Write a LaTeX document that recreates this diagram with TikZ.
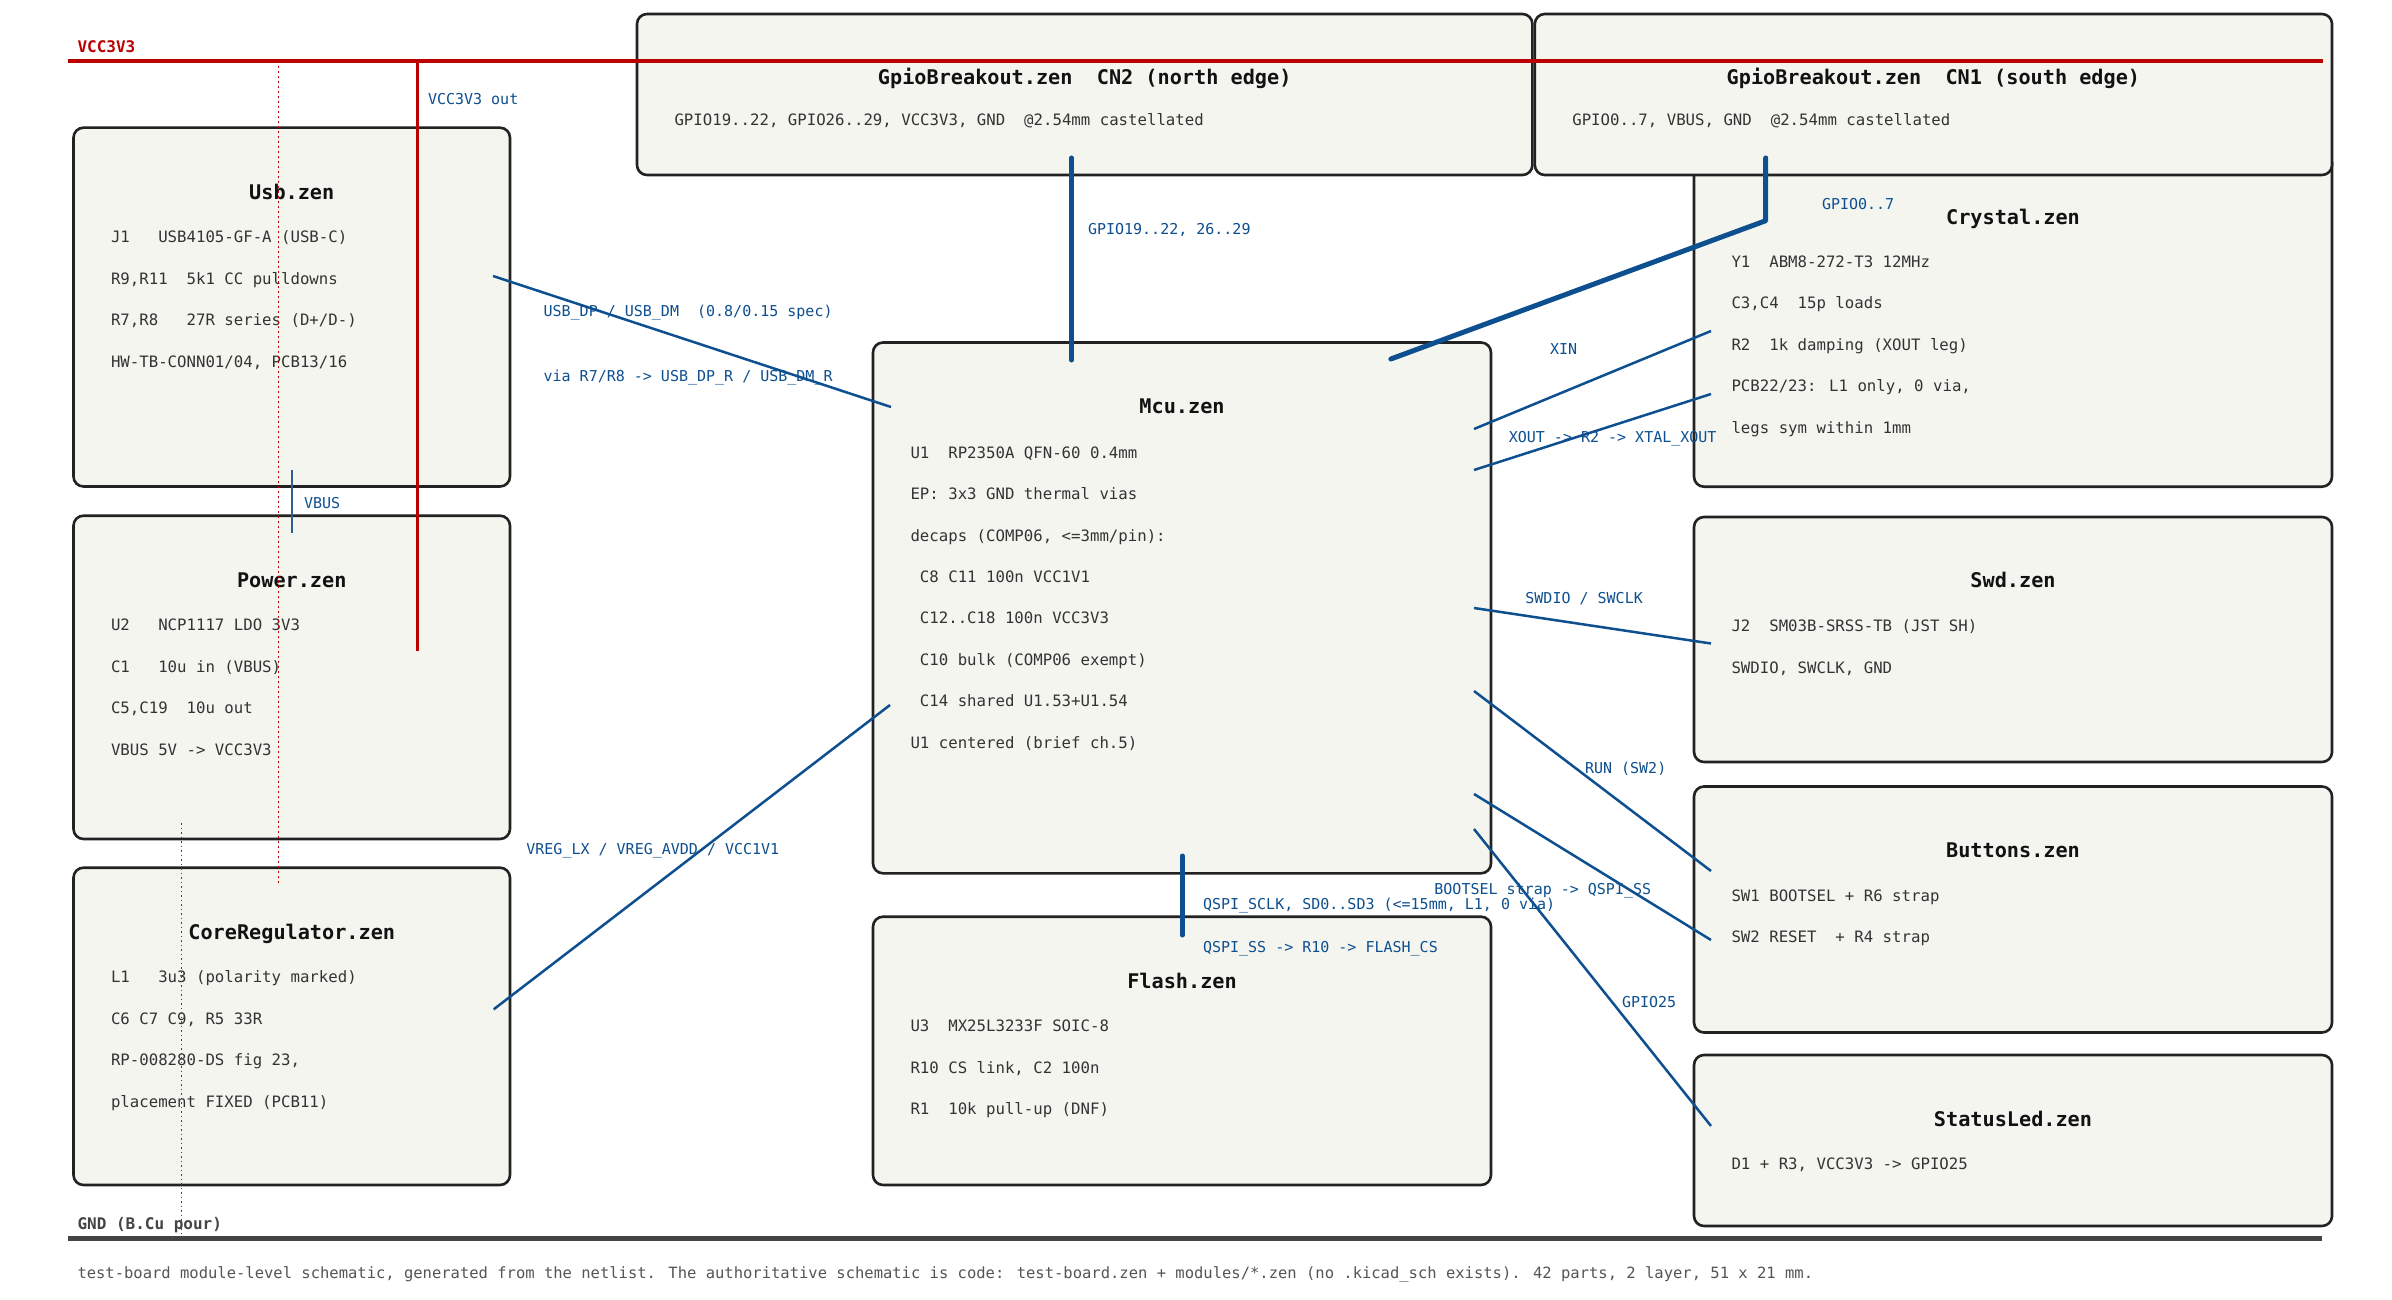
\documentclass[tikz,border=0pt]{standalone}
\usepackage{fontspec}
\usetikzlibrary{calc}
\newfontfamily\zenmono{DejaVu Sans Mono}

\definecolor{railred}{RGB}{187,0,0}
\definecolor{netblue}{RGB}{13,79,143}
\definecolor{vbusblue}{RGB}{45,95,145}
\definecolor{boxfill}{RGB}{245,245,240}
\definecolor{boxline}{RGB}{34,34,34}
\definecolor{gndgray}{RGB}{68,68,68}
\definecolor{bodygray}{RGB}{51,51,51}
\definecolor{notegray}{RGB}{85,85,85}

\begin{document}
\begin{tikzpicture}[x=1pt,y=-1pt]
\tikzstyle{every node}+=[inner sep=0pt, outer sep=0pt]
\tikzstyle{zenbox}=[draw=boxline, fill=boxfill, line width=2.6pt, rounded corners=10pt, anchor=north west]
\tikzstyle{zentitle}=[font=\zenmono\bfseries\fontsize{20.2}{24}\selectfont, text=black!93, text height=14.7pt, text depth=0pt]
\tikzstyle{zenline}=[font=\zenmono\fontsize{15.7}{19}\selectfont, text=bodygray, anchor=west, text height=11.4pt, text depth=0pt]
\tikzstyle{netlabel}=[font=\zenmono\fontsize{15}{18}\selectfont, text=netblue, anchor=west, text height=10.9pt, text depth=0pt]
\tikzstyle{raillabel}=[font=\zenmono\bfseries\fontsize{16}{19}\selectfont, anchor=west, text height=11.7pt, text depth=0pt]
\tikzstyle{net}=[draw=netblue, line width=2.5pt]
\tikzstyle{bus}=[draw=netblue, line width=5pt, line cap=round, line join=round]
\useasboundingbox (0,0) rectangle (2392,1300);
\fill[white] (0,0) rectangle (2392,1300);
% module boxes
\node[zenbox, minimum width=436.5, minimum height=358.8] (usb) at (73.5,127.7) {};
\node[zentitle] (usb-t) at ($(usb.north)+(0,64)$) {Usb.zen};
\foreach \zline [count=\i from 0] in {J1~~~USB4105-GF-A (USB-C), {R9,R11~~5k1 CC pulldowns}, {R7,R8~~~27R series (D+/D-)}, {HW-TB-CONN01/04, PCB13/16}}
  \node[zenline] (usb-\i) at ($(usb.north west)+(37.5,109.5+41.4*\i)$) {\zline};
\node[zenbox, minimum width=436.5, minimum height=323.3] (power) at (73.5,515.7) {};
\node[zentitle] (power-t) at ($(power.north)+(0,64)$) {Power.zen};
\foreach \zline [count=\i from 0] in {U2~~~NCP1117 LDO 3V3, C1~~~10u in (VBUS), {C5,C19~~10u out}, VBUS 5V -> VCC3V3}
  \node[zenline] (power-\i) at ($(power.north west)+(37.5,109.5+41.4*\i)$) {\zline};
\node[zenbox, minimum width=436.5, minimum height=317.3] (corereg) at (73.5,867.7) {};
\node[zentitle] (corereg-t) at ($(corereg.north)+(0,64)$) {CoreRegulator.zen};
\foreach \zline [count=\i from 0] in {L1~~~3u3 (polarity marked), {C6 C7 C9, R5 33R}, {RP-008280-DS fig 23,}, placement FIXED (PCB11)}
  \node[zenline] (corereg-\i) at ($(corereg.north west)+(37.5,109.5+41.4*\i)$) {\zline};
\node[zenbox, minimum width=895.4, minimum height=161] (gpiocn2) at (637,14) {};
\node[zentitle] (gpiocn2-t) at ($(gpiocn2.north)+(0,62.7)$) {GpioBreakout.zen~~CN2 (north edge)};
\node[zenline] (gpiocn2-0) at ($(gpiocn2.north west)+(37.5,106)$) {GPIO19..22, GPIO26..29, VCC3V3, GND~~@2.54mm castellated};
\node[zenbox, minimum width=638, minimum height=334] (crystal) at (1694,152.7) {};
\node[zentitle] (crystal-t) at ($(crystal.north)+(0,64)$) {Crystal.zen};
\foreach \zline [count=\i from 0] in {Y1~~ABM8-272-T3 12MHz, {C3,C4~~15p loads}, R2~~1k damping (XOUT leg), {PCB22/23: L1 only, 0 via,}, legs sym within 1mm}
  \node[zenline] (crystal-\i) at ($(crystal.north west)+(37.5,109+41.4*\i)$) {\zline};
\node[zenbox, minimum width=797.2, minimum height=161] (gpiocn1) at (1534.8,14) {};
\node[zentitle] (gpiocn1-t) at ($(gpiocn1.north)+(0,62.7)$) {GpioBreakout.zen~~CN1 (south edge)};
\node[zenline] (gpiocn1-0) at ($(gpiocn1.north west)+(37.5,106)$) {GPIO0..7, VBUS, GND~~@2.54mm castellated};
\node[zenbox, minimum width=618, minimum height=530.8] (mcu) at (873,342.5) {};
\node[zentitle] (mcu-t) at ($(mcu.north)+(0,64)$) {Mcu.zen};
\foreach \zline [count=\i from 0] in {U1~~RP2350A QFN-60 0.4mm, EP: 3x3 GND thermal vias, {decaps (COMP06, <=3mm/pin):}, ~C8 C11 100n VCC1V1, ~C12..C18 100n VCC3V3, ~C10 bulk (COMP06 exempt), ~C14 shared U1.53+U1.54, U1 centered (brief ch.5)}
  \node[zenline] (mcu-\i) at ($(mcu.north west)+(37.5,110+41.4*\i)$) {\zline};
\node[zenbox, minimum width=618, minimum height=268.3] (flash) at (873,916.7) {};
\node[zentitle] (flash-t) at ($(flash.north)+(0,64)$) {Flash.zen};
\foreach \zline [count=\i from 0] in {U3~~MX25L3233F SOIC-8, {R10 CS link, C2 100n}, R1~~10k pull-up (DNF)}
  \node[zenline] (flash-\i) at ($(flash.north west)+(37.5,109.5+41.4*\i)$) {\zline};
\node[zenbox, minimum width=638, minimum height=245] (swd) at (1694,517) {};
\node[zentitle] (swd-t) at ($(swd.north)+(0,63)$) {Swd.zen};
\foreach \zline [count=\i from 0] in {J2~~SM03B-SRSS-TB (JST SH), {SWDIO, SWCLK, GND}}
  \node[zenline] (swd-\i) at ($(swd.north west)+(37.5,109+41.4*\i)$) {\zline};
\node[zenbox, minimum width=638, minimum height=246] (buttons) at (1694,786.5) {};
\node[zentitle] (buttons-t) at ($(buttons.north)+(0,63.5)$) {Buttons.zen};
\foreach \zline [count=\i from 0] in {SW1 BOOTSEL + R6 strap, SW2 RESET~~+ R4 strap}
  \node[zenline] (buttons-\i) at ($(buttons.north west)+(37.5,109+41.4*\i)$) {\zline};
\node[zenbox, minimum width=638, minimum height=171] (statusled) at (1694,1055) {};
\node[zentitle] (statusled-t) at ($(statusled.north)+(0,64.5)$) {StatusLed.zen};
\node[zenline] (statusled-0) at ($(statusled.north west)+(37.5,109)$) {D1 + R3, VCC3V3 -> GPIO25};
% power rails
\coordinate (vcc-w) at (67.7,61);
\coordinate (vcc-e) at (2323,61);
\coordinate (gnd-w) at (67.7,1238.5);
\coordinate (gnd-e) at (2322,1238.5);
\coordinate (vcc-tap) at (278.4,884);
\coordinate (vcc-out) at (417.3,651);
\coordinate (gnd-tap) at (181.4,823);
\draw[railred, line width=1.5pt, dash pattern=on 2pt off 3pt] (vcc-tap |- vcc-w) -- (vcc-tap);
\draw[gndgray, line width=1.2pt, dash pattern=on 1.5pt off 3pt] (gnd-tap) -- (gnd-tap |- gnd-w);
\draw[railred, line width=2.5pt] (vcc-out |- vcc-w) -- (vcc-out);
\draw[railred, line width=4pt] (vcc-w) -- (vcc-e);
\draw[gndgray, line width=5pt] (gnd-w) -- (gnd-e);
\node[raillabel, text=railred] (vcc-lbl) at (77.5,47) {VCC3V3};
\node[raillabel, text=gndgray] (gnd-lbl) at (77.5,1224) {GND (B.Cu pour)};
% pins
\coordinate (usb-p) at ($(usb.north east)+(-17,148.3)$);
\coordinate (usb-vbus) at ($(usb.south west)+(218.5,-16.5)$);
\coordinate (power-vbus) at ($(power.north west)+(218.5,17.3)$);
\coordinate (corereg-p) at ($(corereg.north east)+(-16.3,141.6)$);
\coordinate (gpiocn2-p) at ($(gpiocn2.south west)+(434.5,-17)$);
\coordinate (gpiocn1-p) at ($(gpiocn1.south west)+(230.9,-17)$);
\coordinate (gpiocn1-k) at ($(gpiocn1.south west)+(230.9,45.7)$);
\coordinate (mcu-usb) at ($(mcu.north west)+(18,64.5)$);
\coordinate (mcu-vreg) at ($(mcu.north west)+(17,362.5)$);
\coordinate (mcu-cn2) at ($(mcu.north west)+(198.5,17.5)$);
\coordinate (mcu-cn1) at ($(mcu.north east)+(-100.2,16.5)$);
\coordinate (mcu-xin) at ($(mcu.north east)+(-17,86.5)$);
\coordinate (mcu-xout) at ($(mcu.north east)+(-17,127.5)$);
\coordinate (mcu-swd) at ($(mcu.north east)+(-17,265.5)$);
\coordinate (mcu-run) at ($(mcu.north east)+(-17,348.5)$);
\coordinate (mcu-boot) at ($(mcu.north east)+(-17,451.5)$);
\coordinate (mcu-led) at ($(mcu.north east)+(-17,486.5)$);
\coordinate (mcu-qspi) at ($(mcu.south)+(0.4,-17.3)$);
\coordinate (flash-qspi) at ($(flash.north)+(0.4,18.3)$);
\coordinate (crystal-xin) at ($(crystal.north west)+(17,178.3)$);
\coordinate (crystal-xout) at ($(crystal.north west)+(17,241.3)$);
\coordinate (swd-p) at ($(swd.north west)+(17,126.5)$);
\coordinate (buttons-run) at ($(buttons.north west)+(17,84.5)$);
\coordinate (buttons-boot) at ($(buttons.north west)+(17,153.5)$);
\coordinate (statusled-p) at ($(statusled.north west)+(17,71)$);
% nets
\draw[draw=vbusblue, line width=2.5pt] (usb-vbus) -- (power-vbus);
\draw[net] (usb-p) -- (mcu-usb);
\draw[net] (corereg-p) -- (mcu-vreg);
\draw[bus] (gpiocn2-p) -- (mcu-cn2);
\draw[bus] (gpiocn1-p) -- (gpiocn1-k) -- (mcu-cn1);
\draw[net] (mcu-xin) -- (crystal-xin);
\draw[net] (mcu-xout) -- (crystal-xout);
\draw[net] (mcu-swd) -- (swd-p);
\draw[net] (mcu-run) -- (buttons-run);
\draw[net] (mcu-boot) -- (buttons-boot);
\draw[net] (mcu-led) -- (statusled-p);
\draw[bus] (mcu-qspi) -- (flash-qspi);
% net labels
\node[netlabel] (lbl-vccout) at (428,98.7) {VCC3V3 out};
\node[netlabel] (lbl-vbus) at (304,503) {VBUS};
\node[netlabel] (lbl-usb1) at (543.6,310.7) {USB\_DP / USB\_DM~~(0.8/0.15 spec)};
\node[netlabel] (lbl-usb2) at (543.6,375.7) {via R7/R8 -> USB\_DP\_R / USB\_DM\_R};
\node[netlabel] (lbl-vreg) at (526.4,849) {VREG\_LX / VREG\_AVDD / VCC1V1};
\node[netlabel] (lbl-cn2) at (1088,229) {GPIO19..22, 26..29};
\node[netlabel] (lbl-cn1) at (1822,204) {GPIO0..7};
\node[netlabel] (lbl-xin) at (1550,349) {XIN};
\node[netlabel] (lbl-xout) at (1508.8,437) {XOUT -> R2 -> XTAL\_XOUT};
\node[netlabel] (lbl-swd) at (1525.4,598) {SWDIO / SWCLK};
\node[netlabel] (lbl-run) at (1585,768) {RUN (SW2)};
\node[netlabel] (lbl-boot) at (1434.4,888.7) {BOOTSEL strap -> QSPI\_SS};
\node[netlabel] (lbl-qspi1) at (1203,904.3) {QSPI\_SCLK, SD0..SD3 (<=15mm, L1, 0 via)};
\node[netlabel] (lbl-qspi2) at (1203,946.7) {QSPI\_SS -> R10 -> FLASH\_CS};
\node[netlabel] (lbl-led) at (1622,1002.3) {GPIO25};
% footnote
\node[zenline, text=notegray, font=\zenmono\fontsize{15.5}{19}\selectfont] (note) at (77.5,1272.5) {test-board module-level schematic, generated from the netlist. The authoritative schematic is code: test-board.zen + modules/*.zen (no .kicad\_sch exists). 42 parts, 2 layer, 51 x 21 mm.};
\end{tikzpicture}
\end{document}
